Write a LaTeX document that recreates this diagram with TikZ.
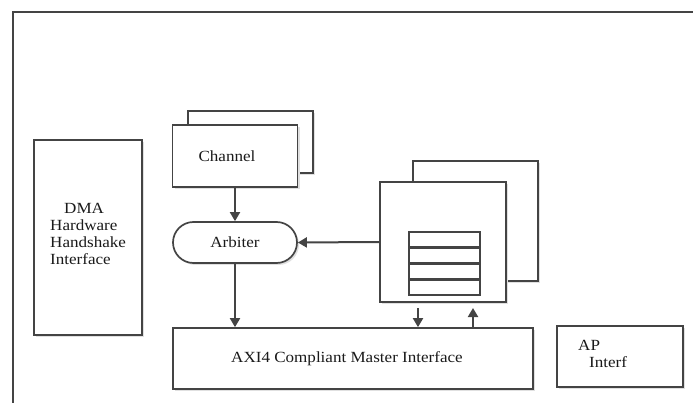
\documentclass[tikz,border=0pt]{standalone}
\usepackage{fontspec}
\setmainfont{Liberation Serif}[FakeStretch=1.1]
\usetikzlibrary{arrows.meta,shapes.misc,shadows}
\definecolor{linegray}{HTML}{444444}
\definecolor{textgray}{HTML}{1A1A1A}
\tikzset{
  blk/.style={draw=linegray, line width=1.7pt, fill=white, inner sep=0pt,
    drop shadow={shadow xshift=2pt, shadow yshift=-2pt, fill=black!12, opacity=1}},
  slot/.style={draw=linegray, line width=1.7pt, fill=white, inner sep=0pt,
    minimum width=71pt, minimum height=15pt},
  txt/.style={text=textgray, inner sep=0pt, font=\fontsize{15.5}{17}\selectfont},
  conn/.style={draw=linegray, line width=2pt, -{Triangle[length=9pt,width=10pt]}}
}
\begin{document}
\begin{tikzpicture}[x=1pt, y=-1pt]
\useasboundingbox (0,0) rectangle (693,403);
\draw [linegray, line width=1.7pt] (13,403) -- (13,12) -- (693,12);

\node [blk, minimum width=108pt, minimum height=195pt] (dma) at (88,237.5) {};
\node [txt, align=left, anchor=north west] (dmatxt) at (50,203) {\hspace*{14pt}DMA\\Hardware\\Handshake\\Interface};

\node [blk, minimum width=125pt, minimum height=62pt] (chb) at (250.5,142) {};
\node [blk, minimum width=125pt, minimum height=62pt] (chf) at (235,156) {};
\node [txt] (chtxt) at (227,156) {Channel};

\node [blk, rounded rectangle, minimum width=124pt, minimum height=41pt] (arb) at (235,242.5) {};
\node [txt] (arbtxt) at (arb.center) {Arbiter};

\node [blk, minimum width=360pt, minimum height=61pt] (axi) at (353,358.5) {};
\node [txt] (axitxt) at (347,358.5) {AXI4 Compliant Master Interface};

\node [blk, minimum width=125pt, minimum height=120pt] (bufb) at (475.5,221) {};
\node [blk, minimum width=126pt, minimum height=120pt] (buff) at (443,242) {};
\foreach \i/\y in {1/239.5, 2/255.5, 3/271.5, 4/287.5}
  \node [slot] (slot\i) at (444.5,\y) {};

\node [blk, minimum width=126pt, minimum height=61pt] (ap) at (620,356.5) {};
\node [txt, align=left, anchor=north west] (aptxt) at (578,340) {AP\\\hspace*{11pt}Interf};

\coordinate (dn) at (418,308);
\coordinate (up) at (473,308);

\draw [conn] (chf.south) -- (arb.north);
\draw [conn] (arb.south) -- (arb.south |- axi.north);
\draw [conn] (buff.west) -- (arb.east);
\draw [conn] (dn) -- (dn |- axi.north);
\draw [conn] (up |- axi.north) -- (up);
\end{tikzpicture}
\end{document}
